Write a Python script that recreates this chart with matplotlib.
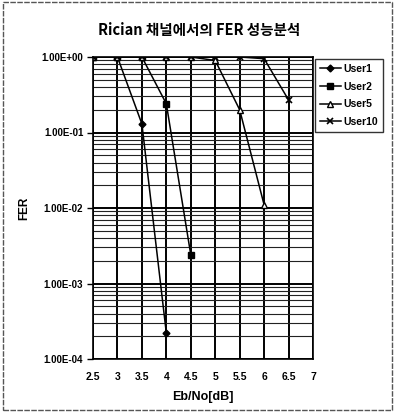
import math
import matplotlib
matplotlib.use("Agg")
import matplotlib.pyplot as plt
from matplotlib.ticker import FixedLocator, FuncFormatter, LogLocator, NullFormatter
from matplotlib.patches import Rectangle

plt.rcParams['font.family'] = ['Noto Sans CJK KR', 'DejaVu Sans']

# Eb/No 값과 사용자 수별 FER
ebno = [2.5, 3, 3.5, 4, 4.5, 5, 5.5, 6, 6.5, 7]
user1 = [1, 1, 0.13, 2.2e-4]
user2 = [1, 1, 1, 0.24, 2.4e-3]
user5 = [1, 1, 1, 1, 1, 0.9, 0.2, 0.011]
user10 = [1, 1, 1, 1, 1, 1, 1, 0.95, 0.27]
ytick_vals = [1e-4, 1e-3, 1e-2, 1e-1, 1e0]

fig = plt.figure(figsize=(3.95, 4.18), dpi=100)
ax = fig.add_axes([93/395, 1-359/418, 220/395, 302/418])

ax.plot(ebno[:len(user1)], user1, color='black', lw=1.1, marker='D', ms=3.5, label='User1')
ax.plot(ebno[:len(user2)], user2, color='black', lw=1.1, marker='s', ms=4, label='User2')
ax.plot(ebno[:len(user5)], user5, color='black', lw=1.1, marker='^', ms=4,
        mfc='white', mec='black', label='User5')
ax.plot(ebno[:len(user10)], user10, color='black', lw=1.1, marker='x', ms=4.5, mew=1.2, label='User10')

ax.set_yscale('log')
ax.set_ylim(1e-4, 1)
ax.set_xlim(2.5, 7)

ax.yaxis.set_major_locator(FixedLocator(ytick_vals))
ax.yaxis.set_major_formatter(FuncFormatter(lambda v, p: '1.00E%+03d' % round(math.log10(v))))
ax.yaxis.set_minor_locator(LogLocator(base=10, subs=range(2, 10)))
ax.yaxis.set_minor_formatter(NullFormatter())
ax.set_xticks(ebno)
ax.set_xticklabels([('%g' % v) for v in ebno])

ax.grid(True, which='major', color='black', lw=1.4)
ax.grid(True, which='minor', axis='y', color='#222222', lw=0.8)
ax.tick_params(axis='y', which='major', length=4, width=1, labelsize=7, pad=3)
ax.tick_params(axis='y', which='minor', length=0)
ax.tick_params(axis='x', length=0, labelsize=7.5, pad=9)
for s in ax.spines.values():
    s.set_linewidth(1.2)
for t in ax.get_yticklabels() + ax.get_xticklabels():
    t.set_family(['Liberation Sans', 'DejaVu Sans'])
    t.set_fontweight('bold')

ax.set_ylabel('FER', fontsize=8.5, fontweight='bold', labelpad=8, family=['Liberation Sans'])
ax.set_xlabel('Eb/No[dB]', fontsize=9, fontweight='bold', labelpad=7, family=['Liberation Sans'])
fig.text(199/395, 1-30/418, 'Rician 채널에서의 FER 성능분석', ha='center', va='center',
         fontsize=10.5, fontweight='bold')

leg = ax.legend(loc='upper left', bbox_to_anchor=(315/395, 1-59/418), bbox_transform=fig.transFigure,
                frameon=True, fancybox=False, edgecolor='black', fontsize=7.5, handlelength=2.0,
                handletextpad=0.3, borderpad=0.45, labelspacing=0.75, borderaxespad=0)
leg.get_frame().set_linewidth(1.0)
for t in leg.get_texts():
    t.set_family(['Liberation Sans'])
    t.set_fontweight('bold')

fig.patches.append(Rectangle((3/395, 8/418), 389/395, 408/418, transform=fig.transFigure,
                             fill=False, edgecolor='#555555', lw=1.0, ls=(0, (4, 1))))

fig.savefig('out.png', dpi=100)
